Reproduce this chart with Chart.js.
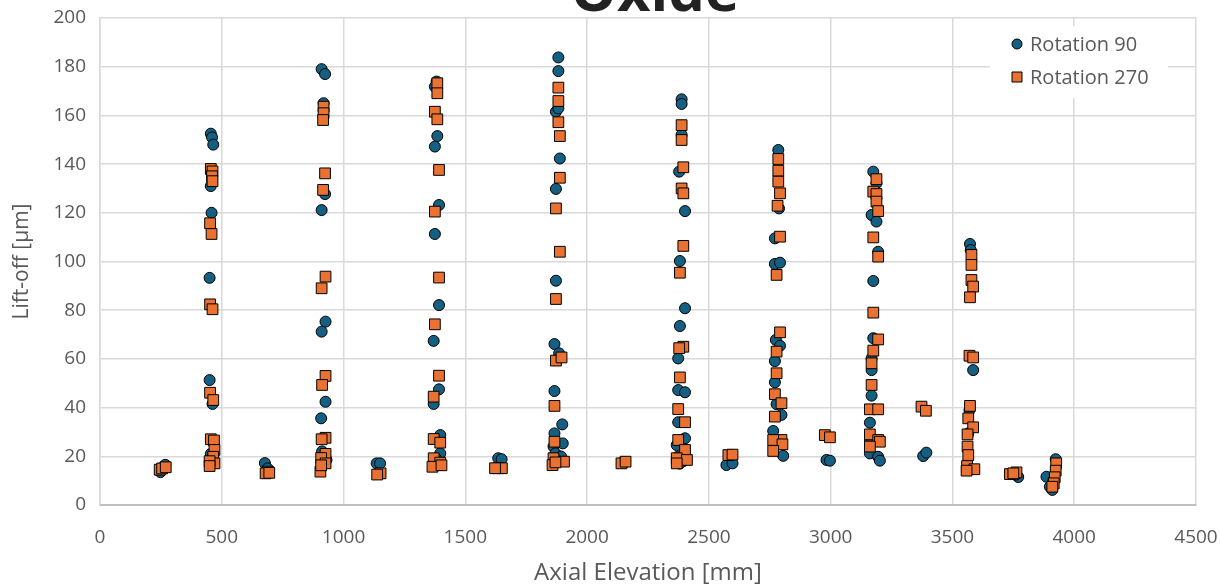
<!DOCTYPE html>
<html>
<head>
<meta charset="utf-8">
<script src="https://cdn.jsdelivr.net/npm/chart.js@4.4.1/dist/chart.umd.min.js"></script>
<style>
  html, body { margin: 0; padding: 0; background: #fff; overflow: hidden; }
  canvas { display: block; }
</style>
</head>
<body>
<canvas id="oxideChart" width="1220" height="588"></canvas>
<script>
// axial elevation [mm] and lift-off [um]
var rot90X = [
    248, 258, 268,
    455, 460, 465, 455, 458, 450, 450, 462, 455, 462, 468,
    677, 688,
    910, 924, 918, 924, 910, 926, 910, 926, 908, 912, 925, 930, 915,
    1136, 1150,
    1382, 1375, 1385, 1375, 1392, 1375, 1392, 1370, 1392, 1370, 1397, 1397, 1397, 1380,
    1635, 1649,
    1882, 1882, 1872, 1882, 1888, 1872, 1872, 1866, 1885, 1866, 1898, 1866, 1900, 1862, 1870, 1893,
    2145, 2155,
    2388, 2388, 2388, 2378, 2402, 2381, 2402, 2381, 2374, 2374, 2402, 2374, 2402, 2368, 2370, 2395, 2380,
    2572, 2597,
    2785, 2788, 2771, 2771, 2792, 2775, 2792, 2771, 2771, 2778, 2798, 2764, 2805, 2771,
    2983, 2997,
    3175, 3188, 3168, 3188, 3195, 3175, 3175, 3168, 3168, 3168, 3161, 3161, 3195, 3202, 3161,
    3380, 3393,
    3572, 3575, 3585, 3570, 3565,
    3770, 3760,
    3924, 3886, 3900, 3910, 3915
];
var rot90Y = [
    13.5, 15.5, 16.5,
    152.5, 151, 148, 131, 120, 93.3, 51.3, 41.5, 21, 19.5, 17.5,
    17.2, 15,
    179, 177, 165, 127.7, 121.1, 75.3, 71.2, 42.4, 35.6, 22, 20, 18.5, 16.5,
    17.1, 17.1,
    173.9, 171.8, 151.5, 147.2, 123.2, 111.3, 82.1, 67.4, 47.5, 41.5, 28.7, 21.2, 16.4, 19,
    19.2, 18.8,
    183.8, 178.2, 161.5, 162.9, 142.3, 129.8, 92.1, 66.1, 62.3, 46.8, 33.1, 29.4, 25.3, 24, 21.2, 19.9,
    17.5, 17.5,
    166.6, 164.7, 152, 136.9, 120.7, 100.2, 80.8, 73.5, 60.2, 47.2, 46.3, 34, 27.4, 24.6, 19.7, 18, 17,
    16.4, 17.1,
    145.8, 121.8, 109.5, 99, 99.5, 67.8, 65.4, 59.1, 50.4, 41.4, 37, 30.4, 20.2, 24.6,
    18.5, 18.2,
    136.9, 132.1, 119.1, 116.4, 104, 92, 68.5, 60.2, 55.4, 44.9, 33.8, 21.2, 19.8, 18.2, 26.7,
    20.1, 21.5,
    107.2, 104.7, 55.4, 39, 29.4,
    11.5, 12.5,
    18.8, 11.6, 7.5, 6.2, 10
];
var rot270X = [
    245, 255, 270,
    455, 462, 460, 462, 452, 458, 452, 462, 452, 465, 455, 468, 470, 465, 470, 450, 450,
    690, 680, 695,
    918, 918, 916, 924, 916, 926, 910, 926, 912, 926, 910, 926, 908, 926, 905, 908,
    1152, 1138,
    1385, 1385, 1375, 1385, 1392, 1375, 1392, 1375, 1392, 1370, 1370, 1397, 1370, 1397, 1365, 1402,
    1635, 1650, 1622,
    1882, 1882, 1882, 1888, 1888, 1872, 1888, 1872, 1872, 1895, 1866, 1866, 1862, 1905, 1858, 1870,
    2141, 2158,
    2388, 2388, 2395, 2388, 2395, 2395, 2381, 2395, 2378, 2381, 2374, 2402, 2374, 2402, 2368, 2410, 2368,
    2580, 2597,
    2785, 2785, 2785, 2792, 2782, 2792, 2778, 2792, 2778, 2778, 2771, 2798, 2771, 2798, 2764, 2802, 2764,
    2976, 2997,
    3188, 3175, 3188, 3188, 3195, 3175, 3195, 3175, 3195, 3175, 3168, 3168, 3161, 3195, 3161, 3195, 3202, 3161,
    3373, 3391,
    3578, 3578, 3578, 3585, 3572, 3570, 3585, 3572, 3565, 3585, 3562, 3562, 3565, 3560, 3590, 3558,
    3736, 3763, 3750,
    3926, 3924, 3920, 3916, 3910
];
var rot270Y = [
    14.5, 15, 15.5,
    138, 137, 135, 133, 115.7, 111.3, 82.4, 80.4, 46.1, 43.1, 27, 26.5, 22.6, 19.8, 17.1, 18, 16,
    13.7, 13, 13.2,
    163.6, 160.9, 158.1, 136.2, 129.4, 93.8, 89, 53, 49.3, 27.6, 27, 21, 19.3, 17.1, 13.7, 16.3,
    13, 12.5,
    173.2, 169.1, 161.5, 158.4, 137.6, 120.5, 93.4, 74.2, 53.1, 44.5, 27.1, 25.6, 19.2, 17.4, 15.7, 16.3,
    15.1, 15.1, 15.1,
    171.4, 165.9, 157.2, 151.5, 134.4, 121.8, 104, 84.6, 59.3, 60.6, 40.7, 26, 19.2, 17.8, 16.4, 17.5,
    17.1, 17.8,
    156, 149.9, 138.7, 130, 128, 106.4, 95.4, 65, 64.4, 52.4, 39.4, 34, 26.7, 22.6, 19.2, 18.5, 17.1,
    20.5, 20.7,
    142.1, 137.3, 132.8, 128, 122.9, 110.2, 94.5, 70.9, 63, 54.1, 45.5, 41.8, 36.3, 26.7, 26.7, 24.9, 22.2,
    28.7, 27.8,
    133.8, 128.7, 127.7, 124.6, 120.7, 109.9, 102, 79, 68, 63.4, 58.2, 49.3, 39.3, 39.3, 29, 26.7, 26, 24,
    40.4, 38.7,
    102.7, 98.6, 92.4, 89.7, 85.3, 61.3, 60.6, 40.7, 35.6, 31.9, 29, 24, 20.5, 16, 14.7, 14.1,
    12.7, 13.4, 13,
    17.1, 14.1, 11.4, 8.9, 7.5
];
var xTicks = [0, 500, 1000, 1500, 2000, 2500, 3000, 3500, 4000, 4500];
var yTicks = [0, 20, 40, 60, 80, 100, 120, 140, 160, 180, 200];
var seriesNames = ["Rotation 90", "Rotation 270"];

function toPoints(xs, ys) {
    var pts = [];
    for (var i = 0; i < xs.length; i++) {
        pts.push({ x: xs[i], y: ys[i] });
    }
    return pts;
}

var FONT = "'Open Sans', 'Liberation Sans', sans-serif";
var GREY = "#595959";
var BLUE = "#156082";
var ORANGE = "#E97132";

// title (cut off at the top) and the boxed legend inside the plot
var decor = {
    id: "decor",
    afterDraw: function (chart) {
        var ctx = chart.ctx;
        var area = chart.chartArea;
        ctx.save();
        ctx.fillStyle = "#222";
        ctx.font = "bold 58px " + FONT;
        ctx.textAlign = "center";
        ctx.textBaseline = "alphabetic";
        ctx.fillText("Oxide", 655, 11);

        var lx = area.right - 206;
        var ly = area.top + 8;
        ctx.fillStyle = "#fff";
        ctx.fillRect(lx, ly, 178, 72);
        var colors = [BLUE, ORANGE];
        for (var i = 0; i < 2; i++) {
            var cy = ly + 18 + i * 33;
            ctx.fillStyle = colors[i];
            ctx.strokeStyle = "#000";
            ctx.lineWidth = 1;
            ctx.beginPath();
            if (i === 0) {
                ctx.arc(lx + 27, cy, 5, 0, Math.PI * 2);
            } else {
                ctx.rect(lx + 22, cy - 5, 10, 10);
            }
            ctx.fill();
            ctx.stroke();
            ctx.fillStyle = GREY;
            ctx.font = "20px " + FONT;
            ctx.textAlign = "left";
            ctx.textBaseline = "middle";
            ctx.fillText(seriesNames[i], lx + 40, cy + 1);
        }
        ctx.restore();
    }
};

var ctx = document.getElementById("oxideChart").getContext("2d");
var myChart = new Chart(ctx, {
    type: "scatter",
    data: {
        datasets: [
            {
                label: seriesNames[0],
                data: toPoints(rot90X, rot90Y),
                backgroundColor: BLUE,
                borderColor: "#000",
                borderWidth: 1,
                pointStyle: "circle",
                pointRadius: 5.5,
                order: 1
            },
            {
                label: seriesNames[1],
                data: toPoints(rot270X, rot270Y),
                backgroundColor: ORANGE,
                borderColor: "#000",
                borderWidth: 1,
                pointStyle: "rect",
                pointRadius: 7.6,
                order: 0
            }
        ]
    },
    options: {
        responsive: false,
        animation: false,
        layout: { padding: { top: 18, right: 24, left: 0, bottom: 0 } },
        plugins: {
            legend: { display: false },
            tooltip: { enabled: false },
            title: { display: false }
        },
        scales: {
            x: {
                type: "linear",
                min: 0,
                max: 4500,
                afterBuildTicks: function (s) { s.ticks = xTicks.map(function (v) { return { value: v }; }); },
                afterFit: function (s) { s.height = 83; s.paddingLeft = 0; s.paddingRight = 0; },
                grid: { color: "#d9d9d9", lineWidth: 1.5, drawTicks: false },
                border: { color: "#bfbfbf", width: 2 },
                ticks: {
                    color: GREY,
                    padding: 21,
                    maxRotation: 0,
                    callback: function (v) { return String(v); },
                    font: { family: FONT, size: 19 }
                },
                title: {
                    display: true,
                    text: "Axial Elevation [mm]",
                    color: GREY,
                    padding: { top: 0, bottom: 0 },
                    font: { family: FONT, size: 24 }
                }
            },
            y: {
                type: "linear",
                min: 0,
                max: 200,
                afterBuildTicks: function (s) { s.ticks = yTicks.map(function (v) { return { value: v }; }); },
                afterFit: function (s) { s.width = 100; s.paddingTop = 0; s.paddingBottom = 0; },
                grid: { color: "#d9d9d9", lineWidth: 1.5, drawTicks: false },
                border: { color: "#d9d9d9", width: 1.5 },
                ticks: {
                    color: GREY,
                    padding: 14,
                    callback: function (v) { return String(v); },
                    font: { family: FONT, size: 19 }
                },
                title: {
                    display: true,
                    text: "Lift-off [µm]",
                    color: GREY,
                    padding: { top: 9, bottom: 0 },
                    font: { family: FONT, size: 21 }
                }
            }
        }
    },
    plugins: [decor]
});
</script>
</body>
</html>
